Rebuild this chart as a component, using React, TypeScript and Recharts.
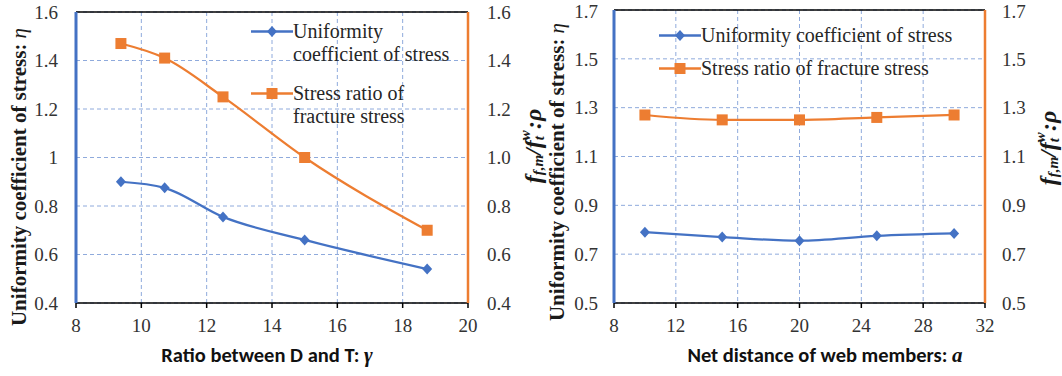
import React from 'react';
import { LineChart, Line, XAxis, YAxis, CartesianGrid, Legend, ReferenceLine, Label } from 'recharts';

const BLUE = '#4472C4';
const ORANGE = '#ED7D31';
const GRID = '#8FAADC';
const TEXT = '#333333';
const SERIF = '"Liberation Serif"';
const SANS = 'Carlito';

// ---- Left chart: ratio between D and T ----
const ratioDT = [9.375, 10.714, 12.5, 15, 18.75];
const uniformityByRatio = [0.9, 0.875, 0.755, 0.66, 0.54];
const stressRatioByRatio = [1.47, 1.41, 1.25, 1.0, 0.7];
const ratioTicks = [8, 10, 12, 14, 16, 18, 20];
const leftYTicks = [0.4, 0.6, 0.8, 1.0, 1.2, 1.4, 1.6];

// ---- Right chart: net distance of web members ----
const netDistance = [10, 15, 20, 25, 30];
const uniformityByDistance = [0.79, 0.77, 0.755, 0.775, 0.785];
const stressRatioByDistance = [1.27, 1.25, 1.25, 1.26, 1.27];
const distanceTicks = [8, 12, 16, 20, 24, 28, 32];
const rightYTicks = [0.5, 0.7, 0.9, 1.1, 1.3, 1.5, 1.7];

const NAME_U = 'Uniformity coefficient of stress';
const NAME_S = 'Stress ratio of fracture stress';
const SERIES_ORDER = ['u', 's'];

const leftRows = ratioDT.map((x, i) => ({ x, u: uniformityByRatio[i], s: stressRatioByRatio[i] }));
const rightRows = netDistance.map((x, i) => ({ x, u: uniformityByDistance[i], s: stressRatioByDistance[i] }));

const Diamond = (props: any) => {
  const { cx, cy, index } = props;
  if (cx == null || cy == null) return null;
  return <path key={`d${index}`} d={`M${cx} ${cy - 5.5}L${cx + 5} ${cy}L${cx} ${cy + 5.5}L${cx - 5} ${cy}Z`} fill={BLUE} />;
};
const Square = (props: any) => {
  const { cx, cy, index } = props;
  if (cx == null || cy == null) return null;
  return <rect key={`s${index}`} x={cx - 5.5} y={cy - 5.5} width={11} height={11} fill={ORANGE} />;
};

const LegendMarker = ({ kind }: { kind: string }) => (
  <svg width={42} height={23} style={{ flex: 'none', display: 'block' }}>
    <line x1={0} y1={11.5} x2={42} y2={11.5} stroke={kind === 'u' ? BLUE : ORANGE} strokeWidth={2.5} />
    {kind === 'u' ? (
      <path d="M21 6L26 11.5L21 17L16 11.5Z" fill={BLUE} />
    ) : (
      <rect x={15.5} y={6} width={11} height={11} fill={ORANGE} />
    )}
  </svg>
);

const makeLegend = (textWidth: number | undefined, gap: number) => (props: any) => {
  const items = [...(props.payload || [])].sort(
    (a: any, b: any) => SERIES_ORDER.indexOf(a.dataKey) - SERIES_ORDER.indexOf(b.dataKey)
  );
  return (
    <div style={{ fontFamily: SERIF, fontSize: 20, color: '#262626', lineHeight: '23px' }}>
      {items.map((it: any, i: number) => (
        <div key={i} style={{ display: 'flex', alignItems: 'flex-start', marginTop: i === 0 ? 0 : gap }}>
          <LegendMarker kind={it.dataKey} />
          <div style={{ width: textWidth, whiteSpace: textWidth ? 'normal' : 'nowrap' }}>{it.value}</div>
        </div>
      ))}
    </div>
  );
};

const RotTitle = ({ x, y, children }: any) => (
  <text
    x={x}
    y={y}
    transform={`rotate(-90 ${x} ${y})`}
    textAnchor="middle"
    dominantBaseline="central"
    fill="#1a1a1a"
  >
    {children}
  </text>
);

const UniformityTitle = ({ x, y }: any) => (
  <RotTitle x={x} y={y}>
    <tspan fontFamily={SERIF} fontWeight="bold" fontSize={21}>Uniformity coefficient of stress: </tspan>
    <tspan fontFamily={SERIF} fontStyle="italic" fontSize={21}>η</tspan>
  </RotTitle>
);

const RatioTitle = ({ x, y }: any) => (
  <RotTitle x={x} y={y}>
    <tspan fontFamily={SERIF} fontWeight="bold" fontStyle="italic" fontSize={24}>f</tspan>
    <tspan fontFamily={SERIF} fontWeight="bold" fontStyle="italic" fontSize={15} dy={5}>f,m</tspan>
    <tspan fontFamily={SERIF} fontWeight="bold" fontStyle="italic" fontSize={24} dy={-5}>/f</tspan>
    <tspan fontFamily={SERIF} fontWeight="bold" fontStyle="italic" fontSize={15} dy={-8}>w</tspan>
    <tspan fontFamily={SERIF} fontWeight="bold" fontStyle="italic" fontSize={15} dx={-10} dy={14}>t</tspan>
    <tspan fontFamily={SERIF} fontWeight="bold" fontStyle="italic" fontSize={24} dx={7} dy={-6}>:ρ</tspan>
  </RotTitle>
);

const XTitle = ({ x, y, text, sym }: any) => (
  <text x={x} y={y} textAnchor="middle" fill="#111">
    <tspan fontFamily={SANS} fontWeight="bold" fontSize={20.5}>{text}</tspan>
    <tspan fontFamily={SERIF} fontWeight="bold" fontStyle="italic" fontSize={21}>{sym}</tspan>
  </text>
);

const tickStyle = { fontFamily: SERIF, fontSize: 19, fill: TEXT };
const fmtPlain = (v: number) => String(+v.toFixed(1));
const fmtOne = (v: number) => v.toFixed(1);

export default function App() {
  return (
    <div style={{ position: 'absolute', left: 0, top: 0, width: 1062, height: 376, background: '#fff', overflow: 'hidden' }}>
      <div style={{ position: 'absolute', left: 0, top: 0 }}>
        <LineChart width={548} height={376} data={leftRows} margin={{ top: 12, right: 20, bottom: 0, left: 0 }}>
          <CartesianGrid yAxisId="l" stroke={GRID} strokeDasharray="4 3" strokeWidth={1} />
          <XAxis
            dataKey="x"
            type="number"
            domain={[8, 20]}
            ticks={ratioTicks}
            height={73}
            axisLine={{ stroke: '#000', strokeWidth: 1.5 }}
            tickLine={{ stroke: '#000', strokeWidth: 1.5 }}
            tickSize={5}
            tickMargin={11}
            tick={tickStyle}
          >
            <Label content={() => <XTitle x={267} y={362} text="Ratio between D and T: " sym="γ" />} />
          </XAxis>
          <YAxis
            yAxisId="l"
            width={76}
            domain={[0.4, 1.6]}
            ticks={leftYTicks}
            tickFormatter={fmtPlain}
            axisLine={{ stroke: BLUE, strokeWidth: 3 }}
            tickLine={false}
            tickSize={6}
            tickMargin={12}
            tick={tickStyle}
          >
            <Label content={() => <UniformityTitle x={19} y={177} />} />
          </YAxis>
          <YAxis
            yAxisId="r"
            orientation="right"
            width={60}
            domain={[0.4, 1.6]}
            ticks={leftYTicks}
            tickFormatter={fmtOne}
            axisLine={{ stroke: ORANGE, strokeWidth: 2.5 }}
            tickLine={false}
            tickSize={6}
            tickMargin={13}
            tick={tickStyle}
          >
            <Label content={() => <RatioTitle x={533} y={146} />} />
          </YAxis>
          <ReferenceLine yAxisId="l" y={1.6} stroke="#000" strokeWidth={1.5} />
          <Legend
            layout="vertical"
            align="center"
            verticalAlign="middle"
            wrapperStyle={{ left: 251, top: 20, width: 220, height: 'auto' }}
            content={makeLegend(170, 16)}
          />
          <Line yAxisId="l" dataKey="u" name={NAME_U} type="monotone" stroke={BLUE} strokeWidth={2.25} dot={Diamond} activeDot={false} isAnimationActive={false} />
          <Line yAxisId="r" dataKey="s" name={NAME_S} type="monotone" stroke={ORANGE} strokeWidth={2.25} dot={Square} activeDot={false} isAnimationActive={false} />
        </LineChart>
      </div>
      <div style={{ position: 'absolute', left: 530, top: 0 }}>
        <LineChart width={532} height={376} data={rightRows} margin={{ top: 10, right: 17, bottom: 0, left: 0 }}>
          <CartesianGrid yAxisId="l" stroke={GRID} strokeDasharray="4 3" strokeWidth={1} />
          <XAxis
            dataKey="x"
            type="number"
            domain={[8, 32]}
            ticks={distanceTicks}
            height={73}
            axisLine={{ stroke: '#000', strokeWidth: 1.5 }}
            tickLine={{ stroke: '#000', strokeWidth: 1.5 }}
            tickSize={5}
            tickMargin={11}
            tick={tickStyle}
          >
            <Label content={() => <XTitle x={295} y={362} text="Net distance of web members: " sym="a" />} />
          </XAxis>
          <YAxis
            yAxisId="l"
            width={84}
            domain={[0.5, 1.7]}
            ticks={rightYTicks}
            tickFormatter={fmtOne}
            axisLine={{ stroke: BLUE, strokeWidth: 3 }}
            tickLine={false}
            tickSize={6}
            tickMargin={10}
            tick={tickStyle}
          >
            <Label content={() => <UniformityTitle x={27} y={172} />} />
          </YAxis>
          <YAxis
            yAxisId="r"
            orientation="right"
            width={60}
            domain={[0.5, 1.7]}
            ticks={rightYTicks}
            tickFormatter={fmtOne}
            axisLine={{ stroke: ORANGE, strokeWidth: 2.5 }}
            tickLine={false}
            tickSize={6}
            tickMargin={11}
            tick={tickStyle}
          >
            <Label content={() => <RatioTitle x={518} y={148} />} />
          </YAxis>
          <ReferenceLine yAxisId="l" y={1.7} stroke="#000" strokeWidth={1.5} />
          <Legend
            layout="vertical"
            align="center"
            verticalAlign="middle"
            wrapperStyle={{ left: 129, top: 24, width: 320, height: 'auto' }}
            content={makeLegend(undefined, 10)}
          />
          <Line yAxisId="l" dataKey="u" name={NAME_U} type="monotone" stroke={BLUE} strokeWidth={2.25} dot={Diamond} activeDot={false} isAnimationActive={false} />
          <Line yAxisId="r" dataKey="s" name={NAME_S} type="monotone" stroke={ORANGE} strokeWidth={2.25} dot={Square} activeDot={false} isAnimationActive={false} />
        </LineChart>
      </div>
    </div>
  );
}
